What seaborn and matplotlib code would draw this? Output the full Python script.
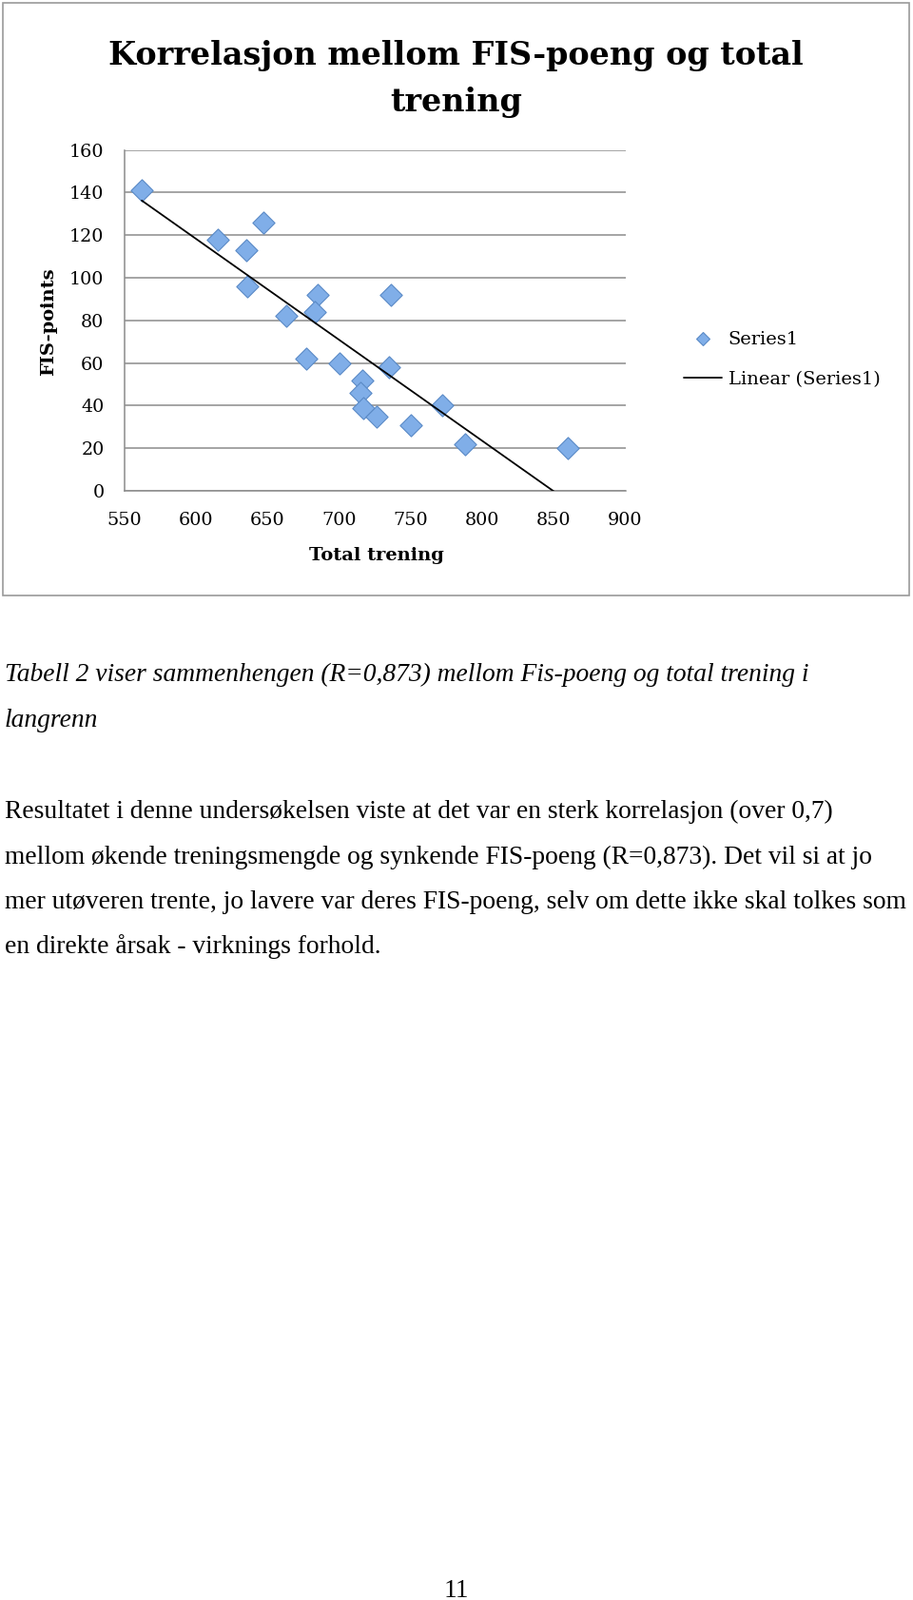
import numpy as np
import pandas as pd
import matplotlib
matplotlib.use("Agg")
import matplotlib.pyplot as plt
import seaborn as sns
from matplotlib.patches import Rectangle
from matplotlib.lines import Line2D

# ---------------- data ----------------
total_trening = [562, 647, 615, 635, 636, 685, 736, 683, 663, 677,
                 700, 735, 716, 715, 717, 726, 750, 772, 788, 860]
fis_points = [141, 126, 118, 113, 96, 92, 92, 84, 82, 62,
              60, 58, 52, 46, 39, 35, 31, 40, 22, 20]
x_ticks = [550, 600, 650, 700, 750, 800, 850, 900]
y_ticks = [0, 20, 40, 60, 80, 100, 120, 140, 160]

title_lines = ["Korrelasjon mellom FIS-poeng og total", "trening"]
x_label = "Total trening"
y_label = "FIS-points"
legend_labels = ["Series1", "Linear (Series1)"]
caption_lines = ["Tabell 2 viser sammenhengen (R=0,873) mellom Fis-poeng og total trening i",
                 "langrenn"]
body_lines = ["Resultatet i denne undersøkelsen viste at det var en sterk korrelasjon (over 0,7)",
              "mellom økende treningsmengde og synkende FIS-poeng (R=0,873). Det vil si at jo",
              "mer utøveren trente, jo lavere var deres FIS-poeng, selv om dette ikke skal tolkes som",
              "en direkte årsak - virknings forhold."]
page_number = "11"

# ---------------- figure ----------------
W, H = 960, 1682
sns.set_style("white")
plt.rcParams['font.family'] = ['DejaVu Serif']
plt.rcParams['text.color'] = 'black'
plt.rcParams['axes.labelcolor'] = 'black'
plt.rcParams['xtick.color'] = 'black'
plt.rcParams['ytick.color'] = 'black'

fig = plt.figure(figsize=(W / 100, H / 100), dpi=100)
fig.patch.set_facecolor('white')


def fx(p):
    return p / W


def fy(p):
    return 1 - p / H


GRID = '#8c8c8c'
FACE = '#80aee8'
EDGE = '#5a8ac6'

# chart frame
fig.patches.append(Rectangle((fx(3), fy(626)), fx(956) - fx(3), fy(3) - fy(626),
                             transform=fig.transFigure, fill=False,
                             edgecolor='#9a9a9a', linewidth=1.2))

ax = fig.add_axes([fx(131), fy(516), fx(657.5) - fx(131), fy(157.7) - fy(516)])
df = pd.DataFrame({"Total trening": total_trening, "FIS-points": fis_points})

sns.scatterplot(data=df, x="Total trening", y="FIS-points", marker='D', s=140,
                color=FACE, edgecolor=EDGE, linewidth=0.8, ax=ax, zorder=3,
                legend=False)
sns.regplot(data=df, x="Total trening", y="FIS-points", scatter=False, ci=None,
            truncate=True, color='black', line_kws={'linewidth': 1.3, 'zorder': 4},
            ax=ax)

ax.set_xlim(550, 900)
ax.set_ylim(0, 160)
ax.set_xticks(x_ticks)
ax.set_yticks(y_ticks)
ax.set_xticklabels([str(v) for v in x_ticks])
ax.set_yticklabels([str(v) for v in y_ticks])
ax.set_xlabel('')
ax.set_ylabel('')
ax.grid(axis='y', color=GRID, linewidth=1.1)
ax.grid(axis='x', visible=False)
ax.set_axisbelow(True)
for s in ['top', 'right']:
    ax.spines[s].set_visible(False)
for s in ['left', 'bottom']:
    ax.spines[s].set_color(GRID)
    ax.spines[s].set_linewidth(1.1)
ax.tick_params(axis='both', length=0, pad=15.5, labelsize=13.8,
               colors='black', labelcolor='black')

# axis titles
fig.text(fx(395.5), fy(589), x_label, ha='center', va='baseline',
         fontsize=14, fontweight='bold', color='black')
fig.text(fx(51.5), fy(338), y_label, ha='center', va='center', rotation=90,
         fontsize=14, fontweight='bold', color='black')

# title
fig.text(fx(479.5), fy(68.3), title_lines[0], ha='center', va='baseline',
         fontsize=24, fontweight='bold', color='black')
fig.text(fx(479.5), fy(116.7), title_lines[1], ha='center', va='baseline',
         fontsize=24, fontweight='bold', color='black')

# legend
h1 = Line2D([], [], marker='D', linestyle='none', markersize=7.6,
            markerfacecolor=FACE, markeredgecolor=EDGE, markeredgewidth=0.8)
h2 = Line2D([], [], color='black', linewidth=1.3)
leg = fig.legend(handles=[h1, h2], labels=legend_labels, loc='center left',
                 bbox_to_anchor=(fx(719), fy(378)), frameon=False, borderpad=0,
                 borderaxespad=0, handlelength=2.08, handletextpad=0.33,
                 labelspacing=1.2, fontsize=14)
for t in leg.get_texts():
    t.set_color('black')

# body text
serif = ['Liberation Serif', 'DejaVu Serif']
BODY = 19.8
for txt, yb in zip(caption_lines, [716, 764]):
    fig.text(fx(5), fy(yb), txt, ha='left', va='baseline', fontsize=BODY,
             style='italic', family=serif, color='black')
for txt, yb in zip(body_lines, [860, 907.5, 955, 1001.5]):
    fig.text(fx(5), fy(yb), txt, ha='left', va='baseline', fontsize=BODY,
             family=serif, color='black')
fig.text(fx(479.5), fy(1679), page_number, ha='center', va='baseline',
         fontsize=BODY, family=serif, color='black')

fig.savefig("out.png", dpi=100, facecolor='white')
